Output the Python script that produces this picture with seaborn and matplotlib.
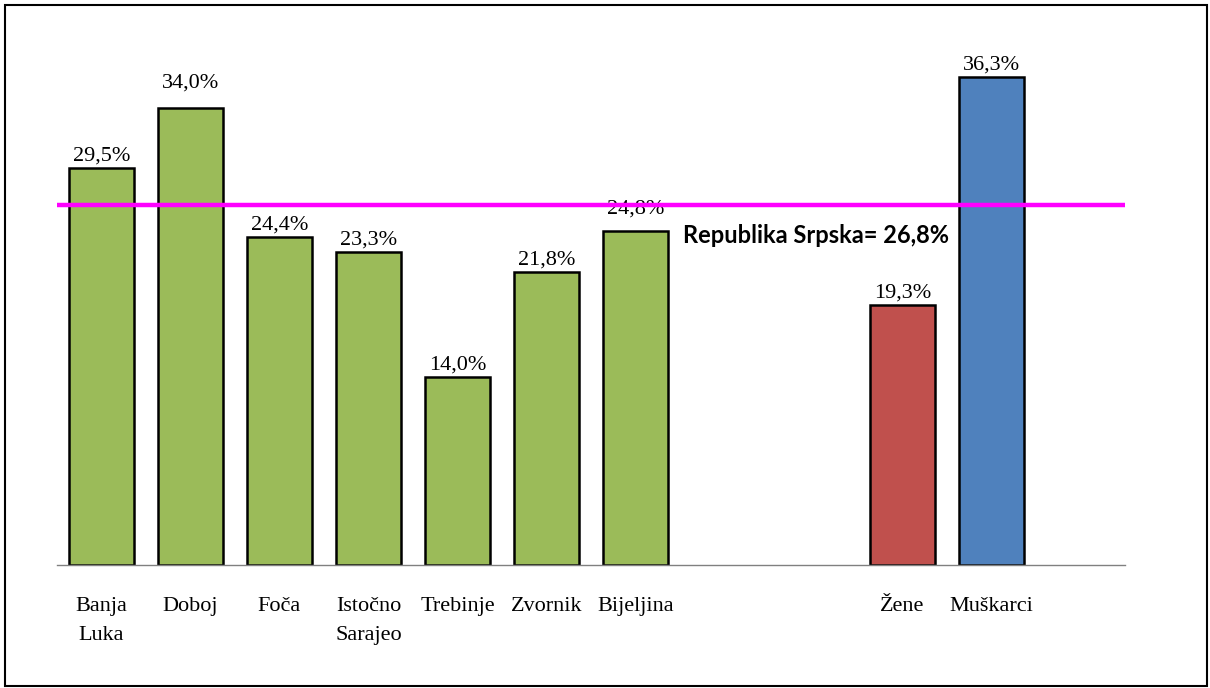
import matplotlib
matplotlib.use("Agg")
import matplotlib.pyplot as plt
import seaborn as sns
import pandas as pd
from matplotlib.patches import Rectangle

# data
regions = ["Banja\nLuka", "Doboj", "Foča", "Istočno\nSarajeo", "Trebinje", "Zvornik", "Bijeljina"]
region_values = [29.5, 34.0, 24.4, 23.3, 14.0, 21.8, 24.8]
genders = ["Žene", "Muškarci"]
gender_values = [19.3, 36.3]
rs_average = 26.8

# empty slots between groups and at the end
order = regions + [" ", "  "] + genders + ["   "]

df = pd.DataFrame({
    "kategorija": regions + genders,
    "procenat": region_values + gender_values,
})

palette = {c: "#9BBB59" for c in regions}
palette["Žene"] = "#C0504D"
palette["Muškarci"] = "#4F81BD"

# Excel put a couple of labels a bit higher than the rest
label_lift = {"Doboj": 13, "Bijeljina": 10}

sns.set_style("white")
serif = ["Liberation Serif", "DejaVu Serif"]
plt.rcParams["font.family"] = serif
plt.rcParams["text.color"] = "black"
plt.rcParams["xtick.color"] = "black"

fig = plt.figure(figsize=(12.1, 6.88), dpi=100)
ax = fig.add_axes([57 / 1210, 123 / 688, 1068 / 1210, 540 / 688])

sns.barplot(data=df, x="kategorija", y="procenat", hue="kategorija", order=order,
            palette=palette, legend=False, width=0.72, edgecolor="black",
            linewidth=1.8, saturation=1, ax=ax)

ax.set_xlim(-0.5, len(order) - 0.5)
ax.set_ylim(0, 540 / 13.45)
ax.set_xlabel("")
ax.set_ylabel("")
ax.set_yticks([])
for s in ["top", "left", "right"]:
    ax.spines[s].set_visible(False)
ax.spines["bottom"].set_color("#808080")
ax.spines["bottom"].set_linewidth(1.0)
ax.set_xticks(range(len(order)))
ax.set_xticklabels(order, fontsize=16, family=serif, linespacing=1.7, color="black")
ax.tick_params(axis="x", length=0, pad=23)

# value labels above bars
for cat, val in zip(df["kategorija"], df["procenat"]):
    xpos = order.index(cat)
    lift = 12 + label_lift.get(cat, 0)
    ax.annotate(f"{val:.1f}%".replace(".", ","), (xpos, val), xytext=(0, lift),
                textcoords="offset pixels", ha="center", va="center",
                fontsize=16, family=serif, color="black", zorder=2)

# Republika Srpska average line
ax.axhline(rs_average, color="#FF00FF", linewidth=3.2, zorder=5)
ax.text(6.53, 24.5, "Republika Srpska= 26,8%", fontsize=17, fontweight="bold",
        family=["Lato", "DejaVu Sans"], color="black", va="center", ha="left")

# frame around the whole picture
fig.patches.append(Rectangle((5 / 1210, 2 / 688), 1202 / 1210, 681 / 688, transform=fig.transFigure,
                             fill=False, edgecolor="black", linewidth=1.5))

fig.savefig("out.png", dpi=100)
